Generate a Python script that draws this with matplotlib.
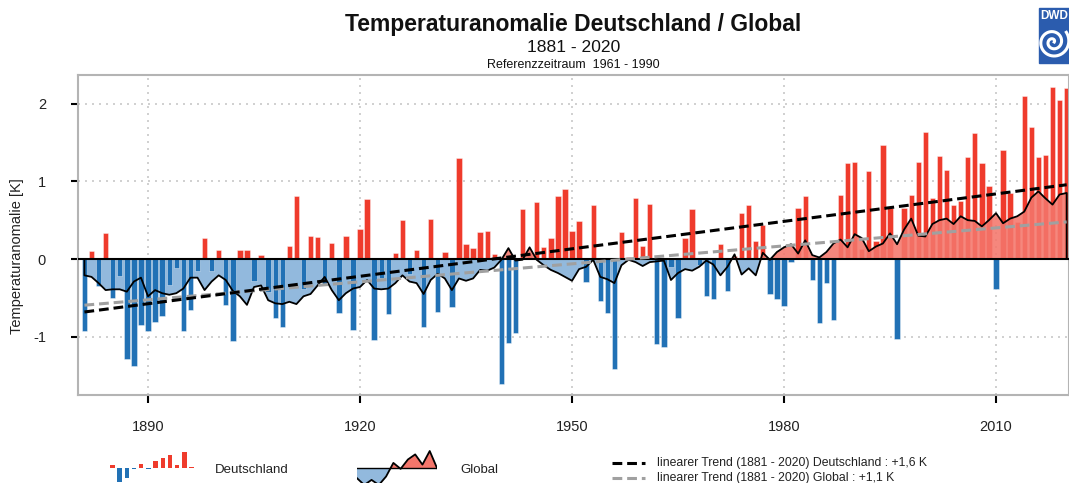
import numpy as np
import matplotlib
matplotlib.use("Agg")
import matplotlib.pyplot as plt
from matplotlib.patches import Rectangle

plt.rcParams['font.family'] = ['Liberation Sans', 'DejaVu Sans']
plt.rcParams['axes.unicode_minus'] = False

# ---------------- data ----------------
years = np.arange(1881, 2021)

de_anomaly = [
    -0.92, 0.10, -0.35, 0.33, -0.50, -0.22, -1.29, -1.38, -0.85, -0.93,   # 1881-1890
    -0.81, -0.73, -0.33, -0.11, -0.93, -0.66, -0.16, 0.27, -0.15, 0.11,   # 1891-1900
    -0.59, -1.06, 0.12, 0.12, -0.28, 0.05, -0.43, -0.76, -0.88, 0.17,     # 1901-1910
    0.81, -0.38, 0.30, 0.28, -0.32, 0.21, -0.70, 0.30, -0.91, 0.39,       # 1911-1920
    0.77, -1.04, -0.25, -0.71, 0.08, 0.50, -0.19, 0.11, -0.87, 0.52,      # 1921-1930
    -0.68, 0.09, -0.62, 1.30, 0.19, 0.14, 0.35, 0.36, 0.06, -1.61,       # 1931-1940
    -1.08, -0.95, 0.65, 0.08, 0.74, 0.15, 0.27, 0.81, 0.90, 0.36,        # 1941-1950
    0.49, -0.29, 0.70, -0.54, -0.70, -1.41, 0.35, 0.02, 0.79, 0.17,      # 1951-1960
    0.71, -1.09, -1.13, -0.10, -0.76, 0.27, 0.65, -0.08, -0.48, -0.52,   # 1961-1970
    0.19, -0.41, 0.04, 0.59, 0.69, 0.23, 0.44, -0.45, -0.52, -0.61,      # 1971-1980
    -0.04, 0.66, 0.81, -0.27, -0.82, -0.31, -0.79, 0.82, 1.24, 1.25,     # 1981-1990
    0.13, 1.13, 0.23, 1.47, 0.66, -1.03, 0.66, 0.83, 1.25, 1.63,         # 1991-2000
    0.78, 1.33, 1.15, 0.70, 0.75, 1.31, 1.62, 1.24, 0.94, -0.39,         # 2001-2010
    1.40, 0.85, 0.47, 2.10, 1.70, 1.31, 1.34, 2.22, 2.05, 2.20,          # 2011-2020
]

global_anomaly = [
    -0.21, -0.23, -0.31, -0.40, -0.39, -0.39, -0.42, -0.29, -0.24, -0.48,  # 1881-1890
    -0.40, -0.44, -0.46, -0.44, -0.38, -0.24, -0.24, -0.40, -0.29, -0.21,  # 1891-1900
    -0.27, -0.41, -0.48, -0.59, -0.36, -0.34, -0.53, -0.57, -0.58, -0.55,  # 1901-1910
    -0.58, -0.48, -0.45, -0.34, -0.23, -0.40, -0.53, -0.44, -0.38, -0.36,  # 1911-1920
    -0.27, -0.38, -0.39, -0.38, -0.31, -0.21, -0.29, -0.31, -0.45, -0.27,  # 1921-1930
    -0.19, -0.25, -0.40, -0.25, -0.28, -0.25, -0.14, -0.15, -0.11, -0.01,  # 1931-1940
    0.14, -0.02, -0.01, 0.15, -0.01, -0.08, -0.14, -0.18, -0.23, -0.28,    # 1941-1950
    -0.13, -0.10, -0.01, -0.23, -0.26, -0.31, -0.08, -0.01, -0.04, -0.09,  # 1951-1960
    -0.04, -0.03, -0.02, -0.27, -0.18, -0.13, -0.15, -0.10, -0.02, -0.07,  # 1961-1970
    -0.21, -0.10, 0.06, -0.20, -0.12, -0.21, 0.08, -0.01, 0.09, 0.15,      # 1971-1980
    0.19, 0.07, 0.24, 0.05, 0.02, 0.09, 0.20, 0.25, 0.15, 0.32,            # 1981-1990
    0.27, 0.10, 0.16, 0.20, 0.33, 0.19, 0.38, 0.52, 0.30, 0.29,            # 1991-2000
    0.45, 0.50, 0.52, 0.45, 0.55, 0.50, 0.49, 0.42, 0.50, 0.59,            # 2001-2010
    0.46, 0.52, 0.55, 0.61, 0.79, 0.87, 0.78, 0.70, 0.83, 0.85,            # 2011-2020
]

x_ticks = [1890, 1920, 1950, 1980, 2010]
y_ticks = [-1, 0, 1, 2]

title = "Temperaturanomalie Deutschland / Global"
subtitle = "1881 - 2020"
ref_text = "Referenzzeitraum  1961 - 1990"
y_label = "Temperaturanomalie [K]"
legend_labels = ["Deutschland", "Global"]
trend_labels = ["linearer Trend (1881 - 2020) Deutschland : +1,6 K",
                "linearer Trend (1881 - 2020) Global : +1,1 K"]

# small legend icon shapes
icon_de = [0.15, -0.85, -0.6, -0.05, 0.25, -0.05, 0.4, 0.6, 0.75, 0.2, 0.95, 0.05]
icon_gl = [-0.6, -1.0, -0.7, -1.0, -0.5, 0.3, -0.05, 0.5, 0.8, 0.2, 1.0, 0.0]

# ---------------- styles ----------------
RED = '#ef3b2c'
BLUE = '#2171b5'
LIGHT_BLUE = '#92b9dd'
SALMON = '#f4766b'
GREY_TREND = '#a0a0a0'

de = np.array(de_anomaly)
gl = np.array(global_anomaly)
assert len(de) == len(years) == len(gl)

W, H = 1069, 483
fig = plt.figure(figsize=(W / 100, H / 100), dpi=100)


def fx(px):
    return px / W


def fy(py):
    return 1 - py / H


ax = fig.add_axes([fx(78), fy(395), fx(1069) - fx(78), fy(75) - fy(395)])
ax.set_xlim(1880.09, 2020.33)
ax.set_ylim(-1.75, 2.368)

# global fill below zero (behind bars)
ax.fill_between(years, gl, 0, where=gl <= 0, interpolate=True,
                color=LIGHT_BLUE, lw=0, zorder=1)
# Germany bars
bar_colors = [RED if v >= 0 else BLUE for v in de]
ax.bar(years, de, width=0.76, color=bar_colors,
       edgecolor=(1, 1, 1, 0.45), linewidth=0.6, zorder=2)
# global fill above zero (in front of bars)
ax.fill_between(years, gl, 0, where=gl >= 0, interpolate=True,
                color=SALMON, alpha=0.88, lw=0, zorder=3)
# global outline
ax.plot(np.r_[years[0], years, years[-1]], np.r_[0, gl, 0],
        color='black', lw=1.3, zorder=4)
# zero line
ax.axhline(0, color='black', lw=1.5, zorder=5)

# trends
ends = years[[0, -1]]
c_de = np.polyfit(years, de, 1)
c_gl = np.polyfit(years, gl, 1)
dash = (3.2, 1.6)
ax.plot(ends, np.polyval(c_gl, ends), color=GREY_TREND, lw=2.2,
        dashes=dash, zorder=6)
ax.plot(ends, np.polyval(c_de, ends), color='black', lw=2.2,
        dashes=dash, zorder=7)

# axes styling
ax.set_xticks(x_ticks)
ax.set_yticks(y_ticks)
ax.set_yticklabels([str(t) for t in y_ticks])
ax.grid(True, color='#c8c8c8', linestyle=(0, (1.2, 3)), lw=1.2, zorder=0)
ax.set_axisbelow(True)
for s in ax.spines.values():
    s.set_color('#b4b4b4')
    s.set_linewidth(1.5)
ax.tick_params(axis='both', colors='black', labelcolor='#222222',
               labelsize=10.5, width=1.5)
ax.tick_params(axis='y', length=5, pad=18)
ax.tick_params(axis='x', length=6, pad=12)
fig.text(fx(17), fy(256), y_label, rotation=90, ha='center', va='center',
         fontsize=10.5, color='#222222')

# titles
cx = (fx(78) + 1) / 2
fig.text(cx, fy(25), title, ha='center', va='center', fontsize=16.5,
         fontweight='bold', color='#111111')
fig.text(cx, fy(48), subtitle, ha='center', va='center', fontsize=12.6,
         color='#111111')
fig.text(cx, fy(65), ref_text, ha='center', va='center', fontsize=9,
         color='#111111')

# DWD logo
fig.patches.append(Rectangle((fx(1039), fy(63)), fx(40), fy(8) - fy(63),
                             transform=fig.transFigure, color='#2b5cae',
                             zorder=1))
fig.text(fx(1054), fy(16), "DWD", ha='center', va='center', color='white',
         fontsize=8.5, fontweight='bold', zorder=2)
th = np.linspace(0, 4.2 * np.pi, 300)
r = 1.2 + 1.1 * th
lx = fx(1053) + r * np.cos(th) / W * 1.05
ly = fy(42) + r * np.sin(th) / H * 1.05
fig.add_artist(plt.Line2D(lx, ly, transform=fig.transFigure, color='white',
                          lw=2.2, zorder=3))

# legend: Deutschland icon
ax_i1 = fig.add_axes([fx(108), fy(483), fx(196) - fx(108), fy(445) - fy(483)])
ax_i1.set_xlim(-0.6, len(icon_de) - 0.4)
ax_i1.set_ylim(-(483 - 468) / 17, (468 - 445) / 17)
ic = np.arange(len(icon_de))
ax_i1.bar(ic, icon_de, width=0.62,
          color=[RED if v >= 0 else BLUE for v in icon_de], lw=0)
ax_i1.axis('off')
fig.text(fx(215), fy(470), legend_labels[0], ha='left', va='center',
         fontsize=9.5, color='#222222')

# legend: Global icon
ax_i2 = fig.add_axes([fx(357), fy(483), fx(437) - fx(357), fy(445) - fy(483)])
ig = np.arange(len(icon_gl))
g = np.array(icon_gl)
ax_i2.set_xlim(ig[0], ig[-1])
ax_i2.set_ylim(-(483 - 468) / 17, (468 - 445) / 17)
ax_i2.fill_between(ig, g, 0, where=g <= 0, interpolate=True,
                   color=LIGHT_BLUE, lw=0)
ax_i2.fill_between(ig, g, 0, where=g >= 0, interpolate=True,
                   color=SALMON, lw=0)
ax_i2.plot(ig, g, color='black', lw=1.3)
ax_i2.axhline(0, color='black', lw=1.0)
ax_i2.axis('off')
fig.text(fx(460), fy(470), legend_labels[1], ha='left', va='center',
         fontsize=9.5, color='#222222')

# legend: trends
for yy, col, lab in [(463, 'black', trend_labels[0]),
                     (478, GREY_TREND, trend_labels[1])]:
    fig.add_artist(plt.Line2D([fx(612), fx(645)], [fy(yy), fy(yy)],
                              transform=fig.transFigure, color=col, lw=2.2,
                              dashes=dash))
    fig.text(fx(657), fy(yy), lab, ha='left', va='center', fontsize=8.8,
             color='#222222')

fig.savefig("out.png", dpi=100)
